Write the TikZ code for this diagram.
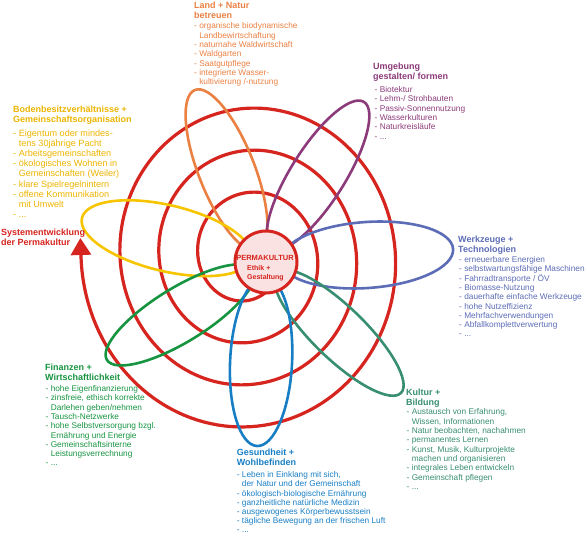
\documentclass[tikz,border=0pt]{standalone}
\usepackage{fontspec}
\setmainfont{Liberation Sans}
\usetikzlibrary{arrows.meta}
\definecolor{cred}{RGB}{214,36,30}
\definecolor{cpink}{RGB}{250,226,226}
\definecolor{corange}{RGB}{234,128,66}
\definecolor{cpurple}{RGB}{140,58,122}
\definecolor{cyellow}{RGB}{247,196,0}
\definecolor{cyeltext}{RGB}{236,180,0}
\definecolor{cslate}{RGB}{92,108,182}
\definecolor{cgreen}{RGB}{22,148,64}
\definecolor{cteal}{RGB}{56,142,112}
\definecolor{cblue}{RGB}{24,126,196}
\newcommand{\ind}{\hphantom{-~}}
\begin{document}
\begin{tikzpicture}[x=1pt,y=-1pt,
  petal/.style={line width=2.6pt},
  hd/.style={anchor=north west, inner sep=0pt, align=left,
    font={\bfseries\fontsize{9}{10}\selectfont\lineskiplimit=-20pt}},
  lst/.style={anchor=north west, inner sep=0pt, align=left,
    font={\fontsize{8.3}{9.3}\selectfont\lineskiplimit=-20pt}},
  lstbig/.style={anchor=north west, inner sep=0pt, align=left,
    font={\fontsize{9.1}{10.2}\selectfont\lineskiplimit=-20pt}}]
\useasboundingbox (0,0) rectangle (585,534);

% spiral
\draw[cred, line width=3.2pt, line join=round] plot[domain=-150:1080, samples=500, variable=\t]
  ({248 - (50+0.108333*\t)*cos(\t)}, {257 - 1.08*(50+0.108333*\t)*sin(\t)});
\coordinate (arrowbase) at (81,257);
\coordinate (arrowtip) at (80.4,238);
\draw[cred, line width=3.2pt, -{Triangle[width=20pt,length=17pt]}] (arrowbase) -- (arrowtip);

% petals
\draw[corange, petal, shift={(226.5,170)}, rotate=111.5] (0,0) ellipse [x radius=86pt, y radius=28pt];
\draw[cpurple, petal, shift={(318,175)}, rotate=57.8] (0,0) ellipse [x radius=86.3pt, y radius=27pt];
\draw[cyellow, petal, shift={(166.7,238.2)}, rotate=166.6] (0,0) ellipse [x radius=87.1pt, y radius=33pt];
\draw[cslate, petal, shift={(367,255)}, rotate=4.0] (0,0) ellipse [x radius=86.3pt, y radius=33pt];
\draw[cgreen, petal, shift={(180.1,314.9)}, rotate=211.6] (0,0) ellipse [x radius=85.9pt, y radius=27pt];
\draw[cteal, petal, shift={(338.9,332.7)}, rotate=-44.1] (0,0) ellipse [x radius=86.5pt, y radius=26pt];
\draw[cblue, petal, shift={(261.1,361.5)}, rotate=267.2] (0,0) ellipse [x radius=84.6pt, y radius=31pt];

% centre
\node[circle, draw=cred, fill=cpink, line width=3pt, minimum size=62pt, inner sep=0pt] (centre) at (266,262) {};
\node[anchor=base, inner sep=0pt, text=cred, font={\bfseries\fontsize{7.5}{9}\selectfont}] (perma) at (265,260.7) {PERMAKULTUR};
\node[anchor=north west, inner sep=0pt, align=left, text=cred, font={\bfseries\fontsize{7}{8.7}\selectfont}] (ethik) at (247,264.7) {\strut Ethik +\\Gestaltung};

% texts
\node[hd, text=corange] (h1) at (194,1.3) {\strut Land + Natur\\betreuen};
\node[lst, text=corange] (l1) at (194,22.2) {\strut - organische biodynamische\\\ind Landbewirtschaftung\\- naturnahe Waldwirtschaft\\- Waldgarten\\- Saatgutpflege\\- integrierte Wasser-\\\ind kultivierung /-nutzung};

\node[hd, text=cpurple] (h2) at (373,62) {\strut Umgebung\\gestalten/ formen};
\node[lst, text=cpurple] (l2) at (374.5,85.8) {\strut - Biotektur\\- Lehm-/ Strohbauten\\- Passiv-Sonnennutzung\\- Wasserkulturen\\- Naturkreisläufe\\- ...};

\node[hd, text=cyeltext] (h3) at (13,105.3) {\strut Bodenbesitzverhältnisse +\\Gemeinschaftsorganisation};
\node[lstbig, text=cyeltext] (l3) at (13,128.7) {\strut - Eigentum oder mindes-\\\ind tens 30jährige Pacht\\- Arbeitsgemeinschaften\\- ökologisches Wohnen in\\\ind Gemeinschaften (Weiler)\\- klare Spielregelnintern\\- offene Kommunikation\\\ind mit Umwelt\\- ...};

\node[hd, text=cred] (h4) at (1,228) {\strut Systementwicklung\\der Permakultur};

\node[hd, text=cslate] (h5) at (458,235.3) {\strut Werkzeuge +\\Technologien};
\node[lst, text=cslate] (l5) at (459,255.8) {\strut - erneuerbare Energien\\- selbstwartungsfähige Maschinen\\- Fahrradtransporte / ÖV\\- Biomasse-Nutzung\\- dauerhafte einfache Werkzeuge\\- hohe Nutzeffizienz\\- Mehrfachverwendungen\\- Abfallkomplettverwertung\\- ...};

\node[hd, text=cgreen] (h6) at (45,363) {\strut Finanzen +\\Wirtschaftlichkeit};
\node[lst, text=cgreen] (l6) at (45.5,384.8) {\strut - hohe Eigenfinanzierung\\- zinsfreie, ethisch korrekte\\\ind Darlehen geben/nehmen\\- Tausch-Netzwerke\\- hohe Selbstversorgung bzgl.\\\ind Ernährung und Energie\\- Gemeinschaftsinterne\\\ind Leistungsverrechnung\\- ...};

\node[hd, text=cteal] (h7) at (406,388) {\strut Kultur +\\Bildung};
\node[lst, text=cteal] (l7) at (406.5,408.2) {\strut - Austausch von Erfahrung,\\\ind Wissen, Informationen\\- Natur beobachten, nachahmen\\- permanentes Lernen\\- Kunst, Musik, Kulturprojekte\\\ind machen und organisieren\\- integrales Leben entwickeln\\- Gemeinschaft pflegen\\- ...};

\node[hd, text=cblue, font={\bfseries\fontsize{9}{10.6}\selectfont\lineskiplimit=-20pt}] (h8) at (236.7,447.6) {\strut Gesundheit +\\Wohlbefinden};
\node[lst, text=cblue, font={\fontsize{8.3}{9.2}\selectfont\lineskiplimit=-20pt}] (l8) at (236.7,471.1) {\strut - Leben in Einklang mit sich,\\\ind der Natur und der Gemeinschaft\\- ökologisch-biologische Ernährung\\- ganzheitliche natürliche Medizin\\- ausgewogenes Körperbewusstsein\\- tägliche Bewegung an der frischen Luft\\- ...};
\end{tikzpicture}
\end{document}
